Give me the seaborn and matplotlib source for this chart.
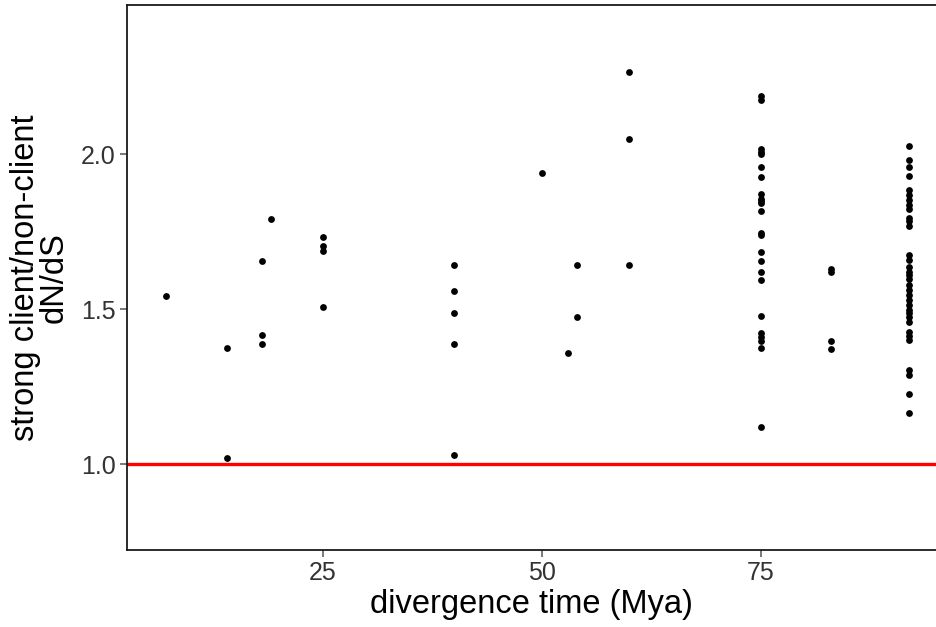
import matplotlib
matplotlib.use("Agg")
import matplotlib.pyplot as plt
import seaborn as sns
import pandas as pd

# Divergence time (Mya) of each species pair and its dN/dS ratio
times = (
    [7]
    + [14, 14]
    + [18, 18, 18]
    + [19]
    + [25, 25, 25, 25]
    + [40, 40, 40, 40, 40]
    + [50]
    + [53]
    + [54, 54]
    + [60, 60, 60]
    + [75] * 24
    + [83] * 4
    + [92] * 34
)
ratios = (
    [1.543]
    + [1.373, 1.020]
    + [1.654, 1.416, 1.389]
    + [1.791]
    + [1.732, 1.703, 1.689, 1.506]
    + [1.642, 1.559, 1.489, 1.389, 1.030]
    + [1.939]
    + [1.358]
    + [1.642, 1.474]
    + [2.266, 2.049, 1.642]
    + [2.187, 2.173, 2.016, 2.000, 1.958, 1.926, 1.871, 1.855, 1.842,
       1.815, 1.745, 1.738, 1.683, 1.656, 1.621, 1.594, 1.478, 1.422,
       1.409, 1.396, 1.373, 1.121, 1.850, 2.008]
    + [1.628, 1.619, 1.396, 1.371]
    + [2.026, 1.980, 1.958, 1.928, 1.885, 1.869, 1.853, 1.837, 1.823,
       1.794, 1.783, 1.769, 1.675, 1.659, 1.637, 1.621, 1.611, 1.597,
       1.578, 1.562, 1.530, 1.514, 1.497, 1.487, 1.474, 1.460, 1.427,
       1.413, 1.400, 1.305, 1.287, 1.226, 1.164, 1.545]
)
neutral_ratio = 1.0
x_ticks = [25, 50, 75]
y_ticks = [1.0, 1.5, 2.0]

df = pd.DataFrame({"time": times, "ratio": ratios})

sns.set_theme(style="white")
plt.rcParams["font.family"] = ["Liberation Sans", "DejaVu Sans"]

fig = plt.figure(figsize=(9.36, 6.27), dpi=100)
ax = fig.add_axes([126.7 / 936, 77 / 627, (936 - 126.7) / 936, 545 / 627])

ax.axhline(neutral_ratio, color="#ff0000", linewidth=2.4, zorder=1)
sns.scatterplot(data=df, x="time", y="ratio", color="black", s=24,
                linewidth=0, ax=ax, zorder=2)

ax.set_xlim(2.55, 95.05)
ax.set_ylim(0.723, 2.481)
ax.set_xticks(x_ticks)
ax.set_xticklabels([str(t) for t in x_ticks])
ax.set_yticks(y_ticks)
ax.set_yticklabels([f"{t:.1f}" for t in y_ticks])

for side in ("left", "bottom", "top"):
    ax.spines[side].set_visible(True)
    ax.spines[side].set_color("#1a1a1a")
    ax.spines[side].set_linewidth(1.3)
ax.spines["right"].set_visible(False)

ax.tick_params(axis="both", which="major", direction="out", length=5,
               width=1.1, color="#555555", labelsize=18,
               labelcolor="#333333", pad=3, bottom=True, left=True)

ax.set_xlabel("divergence time (Mya)", fontsize=23.5, color="black",
              labelpad=3)
ax.set_ylabel("strong client/non-client\ndN/dS", fontsize=23.5,
              color="black", labelpad=8, linespacing=0.9)

fig.savefig("out.png", dpi=100)
